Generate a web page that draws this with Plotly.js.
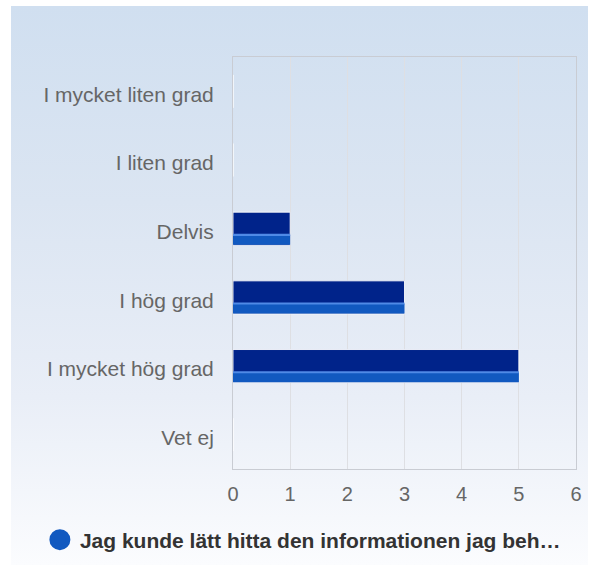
<!DOCTYPE html>
<html>
<head>
<meta charset="utf-8">
<script src="https://cdn.plot.ly/plotly-3.0.1.min.js"></script>
<style>
html, body { margin: 0; padding: 0; background: #ffffff; }
#wrap { position: relative; width: 598px; height: 573px; }
#bg { position: absolute; left: 11px; top: 6px; width: 577px; height: 559px;
      background: linear-gradient(to bottom, #d0dff0 0%, #dbe5f2 35%, #e9eef7 70%, #fbfcfe 100%); }
#chart { position: absolute; left: 0; top: 0; width: 598px; height: 573px; }
</style>
</head>
<body>
<div id="wrap"><div id="bg"></div><div id="chart"></div></div>
<script>
const categories = ["I mycket liten grad", "I liten grad", "Delvis", "I hög grad", "I mycket hög grad", "Vet ej"];
const values = [0, 0, 1, 3, 5, 0];
const seriesName = "Jag kunde lätt hitta den informationen jag beh…";
const xTicks = [0, 1, 2, 3, 4, 5, 6];

const dark = "#00238a";
const light = "#1159c0";

const traces = [
  {
    type: "bar", orientation: "h", y: categories, x: values,
    width: 0.48, offset: -0.24,
    marker: { color: dark, line: { color: "rgba(255,255,255,0.85)", width: 1 } },
    showlegend: false, hoverinfo: "x+y"
  },
  {
    type: "bar", orientation: "h", y: categories, x: values,
    width: 0.14, offset: 0.095,
    marker: { color: light, line: { width: 0 } },
    showlegend: false, hoverinfo: "skip"
  },
  {
    type: "bar", orientation: "h", y: categories, x: values,
    width: 0.03, offset: 0.075,
    marker: { color: "#4f8ae6", line: { width: 0 } },
    showlegend: false, hoverinfo: "skip"
  },
  {
    type: "scatter", mode: "markers", x: [null], y: [null], name: seriesName,
    marker: { symbol: "circle", size: 16, color: light, line: { color: light, width: 5 } },
    showlegend: true
  }
];

const layout = {
  width: 598, height: 573,
  margin: { l: 233, r: 22, t: 57, b: 104 },
  paper_bgcolor: "rgba(0,0,0,0)",
  plot_bgcolor: "rgba(0,0,0,0)",
  barmode: "overlay",
  font: { family: "Liberation Sans, Arial, sans-serif", color: "#666666", size: 21 },
  xaxis: {
    range: [0, 6], tickvals: xTicks, ticktext: xTicks.map(String),
    showgrid: true, gridcolor: "#dedfe3", gridwidth: 1,
    zeroline: false,
    showline: true, linecolor: "#c9ccd3", linewidth: 1, mirror: true,
    ticks: "outside", ticklen: 7, tickcolor: "rgba(0,0,0,0)",
    tickfont: { size: 20, color: "#666666" },
    fixedrange: true
  },
  yaxis: {
    type: "category", categoryorder: "array", categoryarray: categories,
    autorange: "reversed",
    showgrid: false, zeroline: false,
    showline: true, linecolor: "#c9ccd3", linewidth: 1, mirror: true,
    ticks: "outside", ticklen: 14, tickcolor: "rgba(0,0,0,0)",
    ticklabelshift: -3,
    tickfont: { size: 21, color: "#666666" },
    fixedrange: true
  },
  showlegend: true,
  legend: {
    orientation: "h", xref: "container", yref: "container",
    x: 0.0667, y: 0.0576, xanchor: "left", yanchor: "middle",
    bgcolor: "rgba(0,0,0,0)",
    font: { size: 21, color: "#333333", family: "Liberation Sans, Arial, sans-serif", weight: "bold" }
  }
};

Plotly.newPlot("chart", traces, layout, { displayModeBar: false, staticPlot: true });
</script>
</body>
</html>
